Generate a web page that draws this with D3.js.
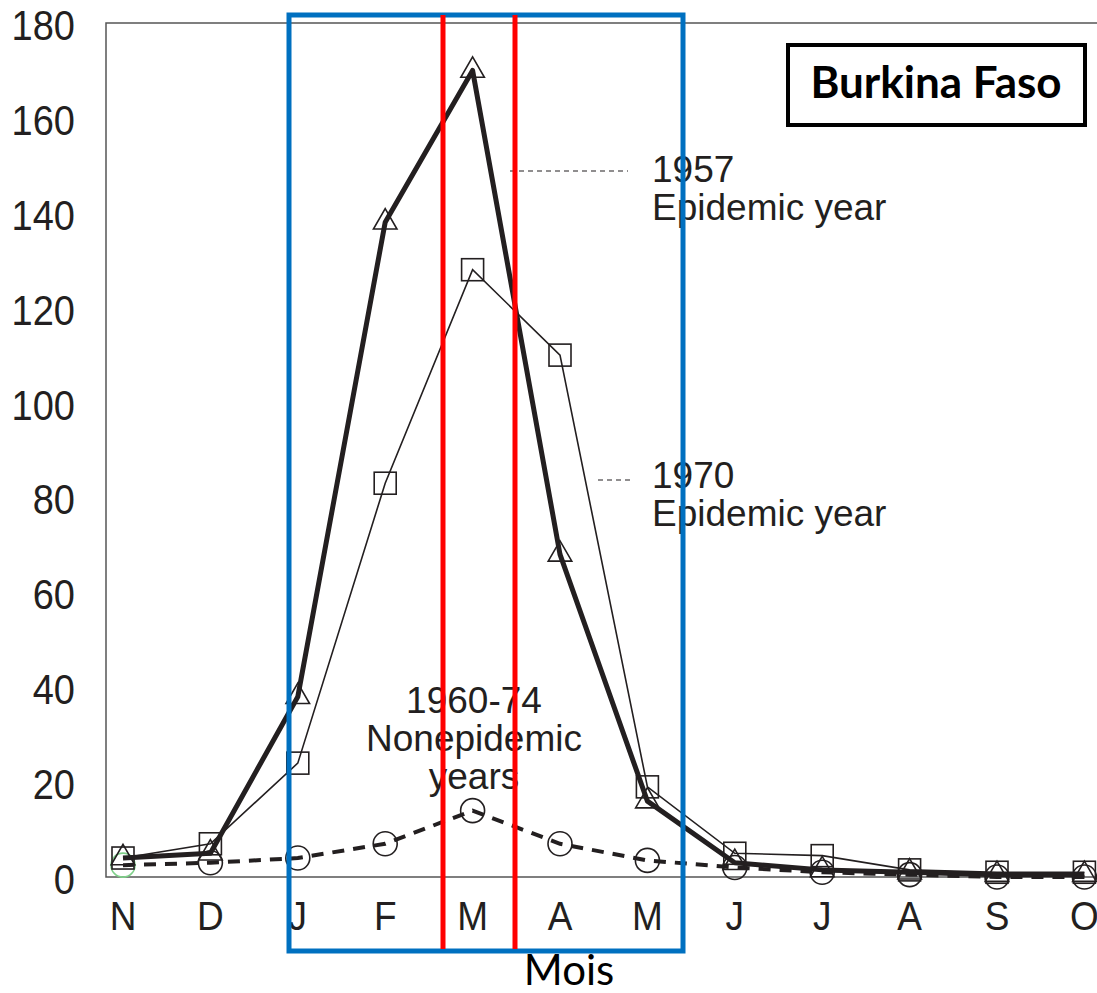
<!DOCTYPE html>
<html>
<head>
<meta charset="utf-8">
<script src="https://cdn.jsdelivr.net/npm/d3@7"></script>
<style>
  body { margin: 0; background: #fff; }
  svg { display: block; }
</style>
</head>
<body>
<svg id="chart" width="1097" height="993"></svg>
<script>
// months (Nov -> Oct)
var months = ["N", "D", "J", "F", "M", "A", "M", "J", "J", "A", "S", "O"];
var yTicks = [0, 20, 40, 60, 80, 100, 120, 140, 160, 180];
// series
var epi1957 = [4, 5, 38, 138, 170, 68, 16, 3, 1.5, 1, 0.5, 0.5];
var epi1970 = [4, 7, 24, 83, 128, 110, 19, 5, 4.5, 1.5, 1, 1];
var nonEpi = [2.5, 3, 4, 7, 14, 7, 3.5, 2, 1, 0.5, 0, 0];

var svg = d3.select("#chart"),
    width = +svg.attr("width"),
    height = +svg.attr("height"),
    margin = { left: 106, top: 23, bottom: 116 };

var x = d3.scalePoint()
    .domain(d3.range(months.length))
    .range([123, 123 + 87.4 * 11]);
var y = d3.scaleLinear()
    .domain([0, 180])
    .range([height - margin.bottom, margin.top]);

var font = "'Liberation Sans', Arial, sans-serif";

// plot frame (runs off the right edge)
svg.append("path")
    .attr("d", `M${width + 5},${y(180)} H${margin.left} V${y(0)} H${width + 5}`)
    .attr("fill", "none")
    .attr("stroke", "#555")
    .attr("stroke-width", 1.5);

// y-axis labels (glyphs a bit taller than wide in the source)
svg.append("g").selectAll("text")
    .data(yTicks)
    .join("text")
    .attr("transform", d => `translate(75,${y(d) + 17}) scale(1,1.1)`)
    .attr("text-anchor", "end")
    .style("font-family", font)
    .style("font-size", "38px")
    .attr("fill", "#231f20")
    .text(d => d);

// x-axis labels
svg.append("g").selectAll("text")
    .data(months)
    .join("text")
    .attr("transform", (d, i) => `translate(${x(i)},930) scale(1,1.1)`)
    .attr("text-anchor", "middle")
    .style("font-family", font)
    .style("font-size", "37px")
    .attr("fill", "#231f20")
    .text(d => d);

var line = d3.line().x((d, i) => x(i)).y(d => y(d));

// nonepidemic years, dashed
svg.append("path")
    .datum(nonEpi)
    .attr("d", line)
    .attr("fill", "none")
    .attr("stroke", "#231f20")
    .attr("stroke-width", 4)
    .attr("stroke-dasharray", "12,9");
svg.append("g").selectAll("circle")
    .data(nonEpi)
    .join("circle")
    .attr("cx", (d, i) => x(i))
    .attr("cy", d => y(d))
    .attr("r", 12)
    .attr("fill", "none")
    .attr("stroke", (d, i) => i == 0 ? "#7fd08a" : "#231f20")
    .attr("stroke-width", 1.6);

// 1970, thin
svg.append("path")
    .datum(epi1970)
    .attr("d", line)
    .attr("fill", "none")
    .attr("stroke", "#231f20")
    .attr("stroke-width", 1.6);
svg.append("g").selectAll("rect")
    .data(epi1970)
    .join("rect")
    .attr("x", (d, i) => x(i) - 11)
    .attr("y", d => y(d) - 11)
    .attr("width", 22)
    .attr("height", 22)
    .attr("fill", "none")
    .attr("stroke", "#231f20")
    .attr("stroke-width", 1.6);

// 1957, thick
svg.append("path")
    .datum(epi1957)
    .attr("d", line)
    .attr("fill", "none")
    .attr("stroke", "#231f20")
    .attr("stroke-width", 5)
    .attr("stroke-linejoin", "round");
var tri = d3.symbol().type(d3.symbolTriangle).size(240);
svg.append("g").selectAll("path")
    .data(epi1957)
    .join("path")
    .attr("transform", (d, i) => `translate(${x(i)},${y(d)})`)
    .attr("d", tri)
    .attr("fill", "none")
    .attr("stroke", "#231f20")
    .attr("stroke-width", 1.6);

// annotations
function label(lines, xPos, yPos, anchor) {
    var t = svg.append("text")
        .attr("x", xPos)
        .attr("y", yPos)
        .attr("text-anchor", anchor)
        .style("font-family", font)
        .style("font-size", "37px")
        .attr("fill", "#231f20");
    lines.forEach((s, i) => t.append("tspan").attr("x", xPos).attr("dy", i ? 38 : 0).text(s));
}
label(["1957", "Epidemic year"], 652, 182, "start");
label(["1970", "Epidemic year"], 652, 488, "start");
label(["1960-74", "Nonepidemic", "years"], 474, 713, "middle");

svg.append("line")
    .attr("x1", 510).attr("x2", 628)
    .attr("y1", 171).attr("y2", 171)
    .attr("stroke", "#231f20").attr("stroke-width", 1.2)
    .attr("stroke-dasharray", "5,4");
svg.append("line")
    .attr("x1", 598).attr("x2", 634)
    .attr("y1", 480).attr("y2", 480)
    .attr("stroke", "#231f20").attr("stroke-width", 1.2)
    .attr("stroke-dasharray", "5,4");

// highlight boxes
svg.append("rect")
    .attr("x", 289).attr("y", 15)
    .attr("width", 394).attr("height", 936)
    .attr("fill", "none")
    .attr("stroke", "#0070c0")
    .attr("stroke-width", 5);
[443, 515].forEach(xv => {
    svg.append("line")
        .attr("x1", xv).attr("x2", xv)
        .attr("y1", 15).attr("y2", 949)
        .attr("stroke", "#ff0000")
        .attr("stroke-width", 5);
});

// title box
svg.append("rect")
    .attr("x", 788).attr("y", 45)
    .attr("width", 297).attr("height", 80)
    .attr("fill", "#fff")
    .attr("stroke", "#000")
    .attr("stroke-width", 4);
svg.append("text")
    .attr("x", 936).attr("y", 98)
    .attr("text-anchor", "middle")
    .style("font-family", "Lato, 'Open Sans', sans-serif")
    .style("font-weight", "bold")
    .style("font-size", "44px")
    .text("Burkina Faso");

svg.append("text")
    .attr("x", 569).attr("y", 985)
    .attr("text-anchor", "middle")
    .style("font-family", "Lato, 'Open Sans', sans-serif")
    .style("font-size", "42px")
    .text("Mois");
</script>
</body>
</html>
